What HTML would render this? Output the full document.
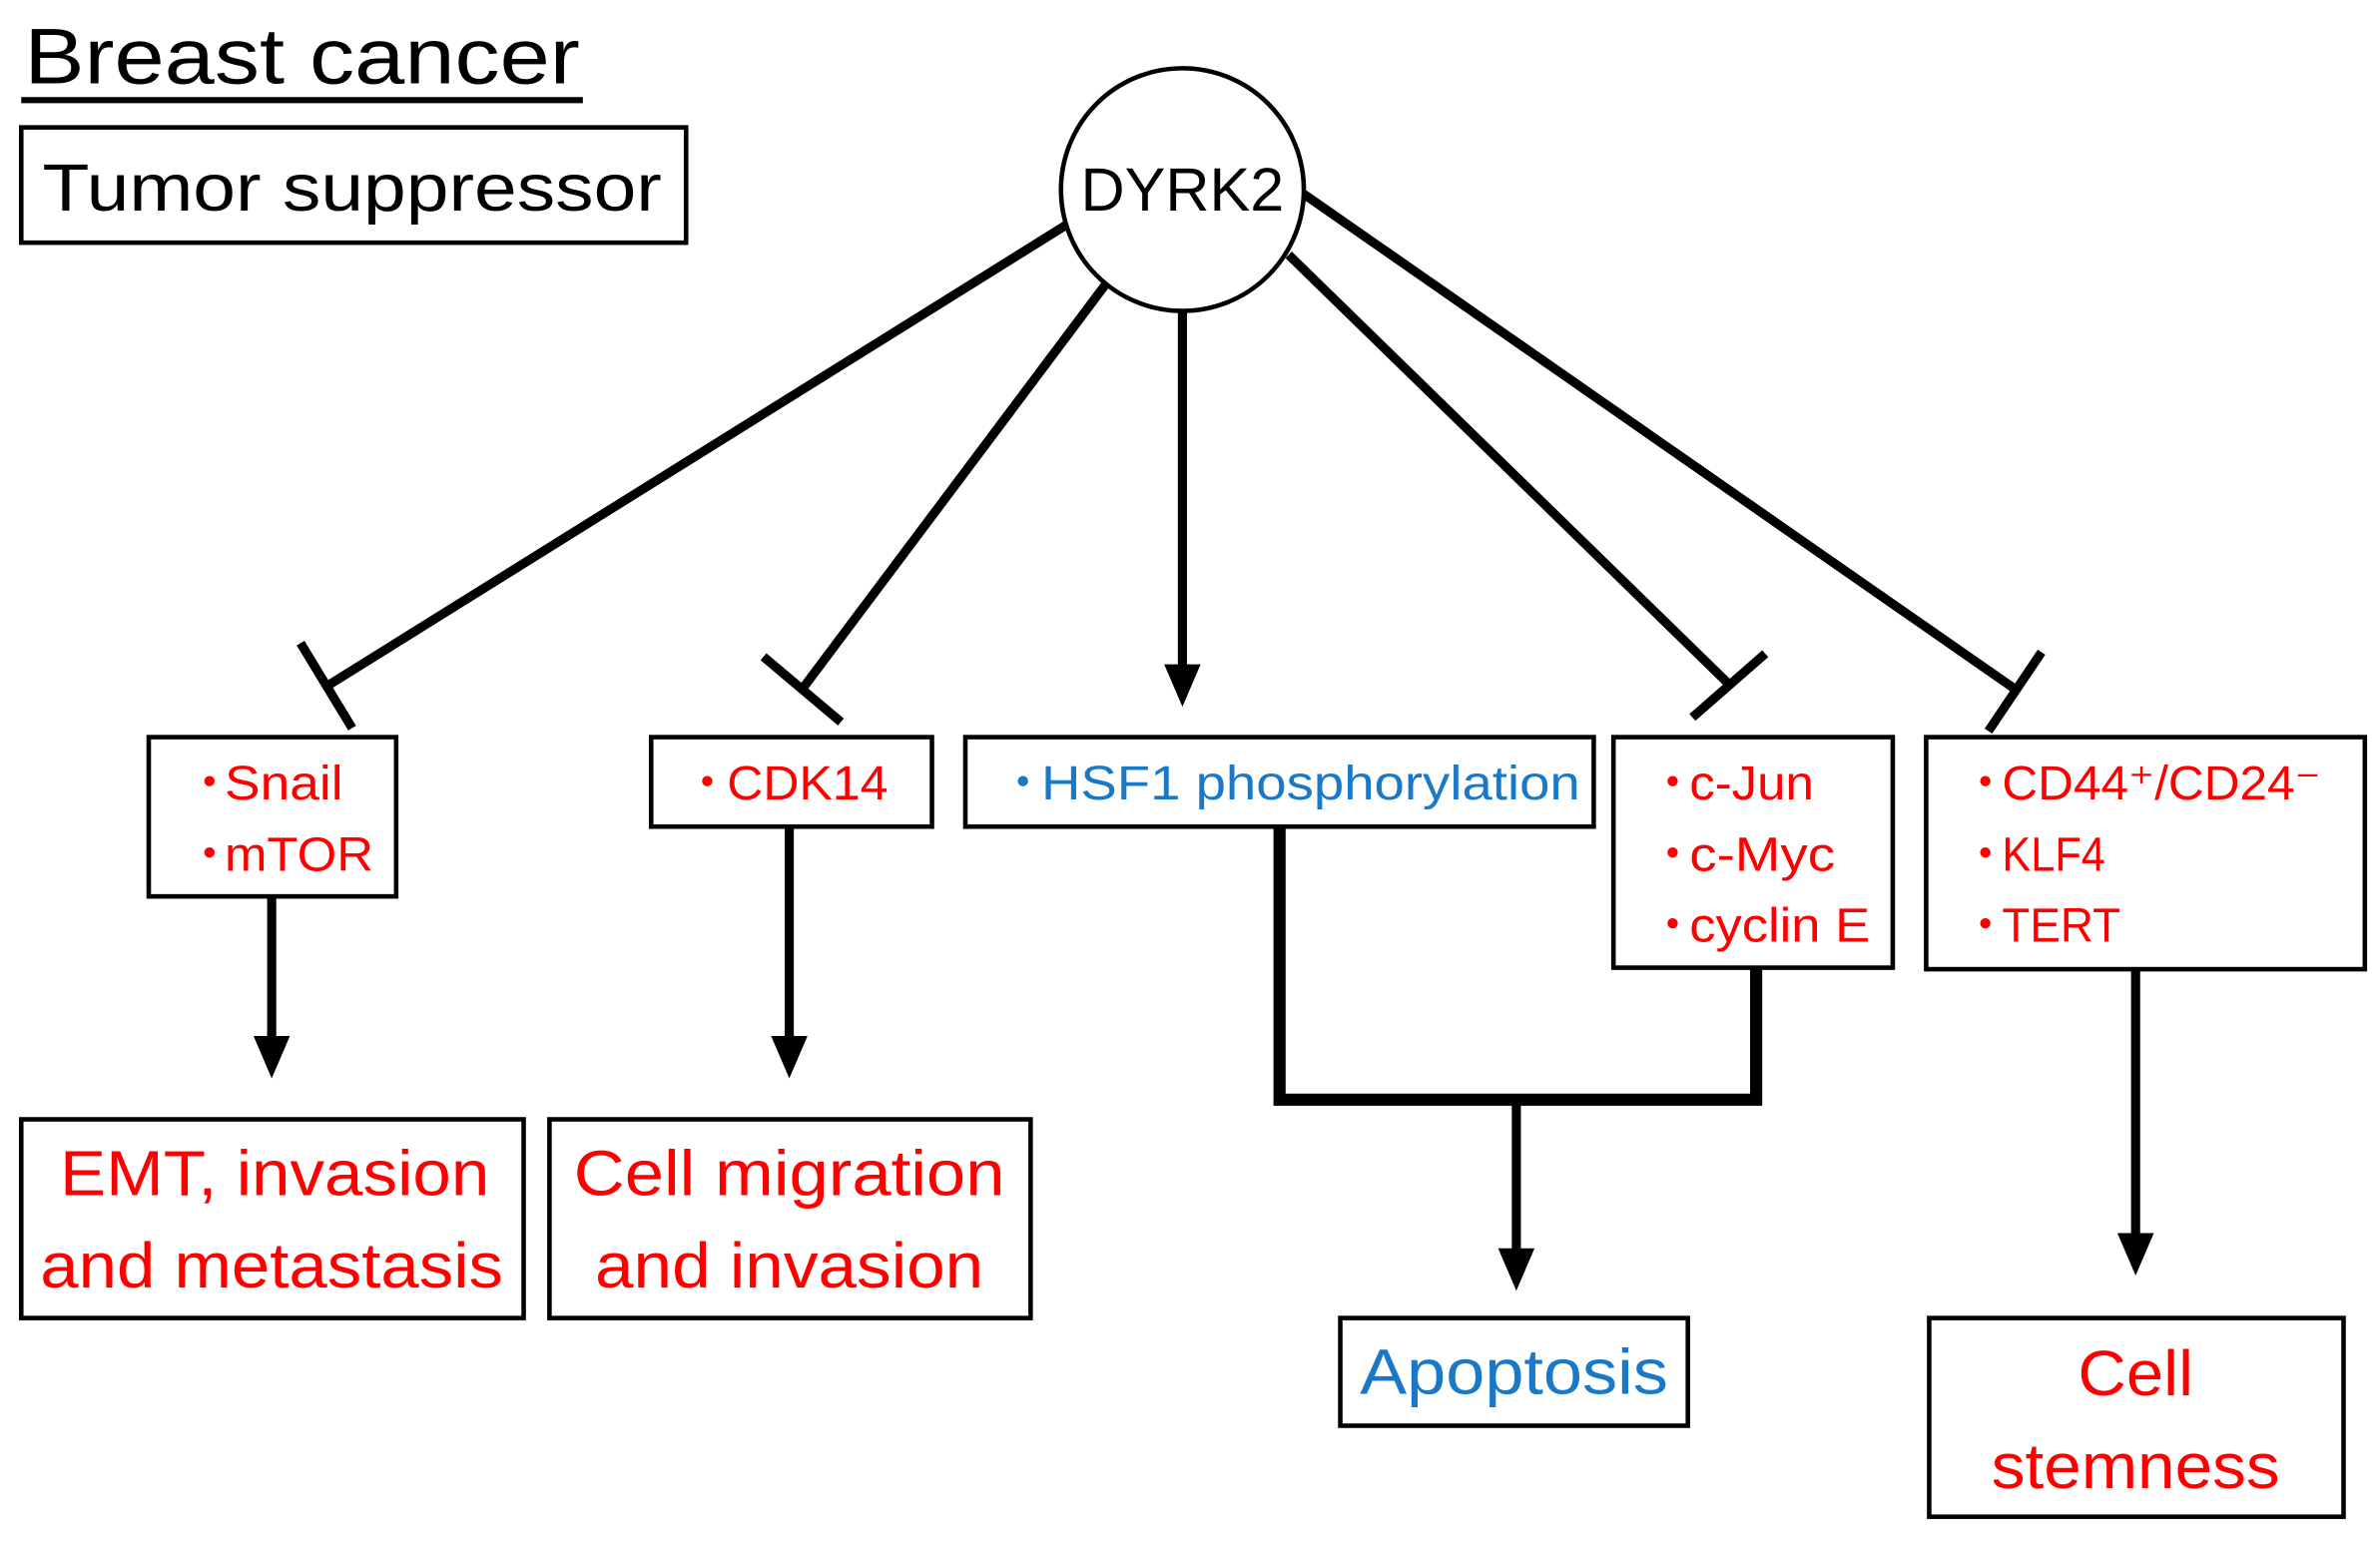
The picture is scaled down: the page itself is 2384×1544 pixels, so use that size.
<!DOCTYPE html>
<html><head><meta charset="utf-8"><style>html,body{margin:0;padding:0;background:#fff}svg{display:block}</style></head>
<body>
<svg width="2384" height="1544" viewBox="0 0 1568 1016" preserveAspectRatio="none" xmlns="http://www.w3.org/2000/svg" font-family="Liberation Sans, DejaVu Sans, sans-serif">
<defs><marker id="a" markerWidth="6" markerHeight="6" refX="3" refY="3" orient="auto" markerUnits="userSpaceOnUse" viewBox="0 0 6 6"><path d="M0,0 L6,3 L0,6 z"/></marker></defs>
<g fill="none" stroke="#000">
<!-- title -->
<line x1="14" y1="66" x2="384" y2="66" stroke-width="4"/>
<rect x="14" y="84" width="438" height="76" stroke-width="3"/>
<circle cx="779" cy="125" r="80" stroke-width="3"/>
<!-- inhibition lines -->
<g stroke-width="6">
<line x1="703" y1="148" x2="216" y2="452"/>
<line x1="198" y1="424" x2="232" y2="480"/>
<line x1="728" y1="188" x2="528" y2="455"/>
<line x1="503" y1="433" x2="554" y2="476"/>
<line x1="849" y1="168" x2="1140" y2="452"/>
<line x1="1115" y1="473" x2="1163" y2="431"/>
<line x1="859" y1="128" x2="1330" y2="456"/>
<line x1="1310" y1="482" x2="1345" y2="430"/>
<line x1="779" y1="205" x2="779" y2="440"/>
<line x1="179" y1="591" x2="179" y2="685"/>
<line x1="520" y1="545" x2="520" y2="685"/>
<line x1="1407" y1="639" x2="1407" y2="815"/>
<polyline points="843,545 843,725 1157,725 1157,638" stroke-width="8"/>
<line x1="999" y1="725" x2="999" y2="825"/>
</g>
<g fill="#000" stroke="none">
<polygon points="767,438 791,438 779,466"/>
<polygon points="167,683 191,683 179,711"/>
<polygon points="508,683 532,683 520,711"/>
<polygon points="1395,813 1419,813 1407,841"/>
<polygon points="987,823 1011,823 999,851"/>
</g>
<g stroke-width="3">
<rect x="98" y="486" width="163" height="105"/>
<rect x="429" y="486" width="185" height="59"/>
<rect x="636" y="486" width="414" height="59"/>
<rect x="1063" y="486" width="184" height="152"/>
<rect x="1269" y="486" width="289" height="153"/>
<rect x="14" y="738" width="331" height="131"/>
<rect x="362" y="738" width="317" height="131"/>
<rect x="883" y="869" width="229" height="71"/>
<rect x="1271" y="869" width="273" height="131"/>
</g>
</g>
<g fill="#000">
<text x="16" y="55" font-size="52" textLength="366" lengthAdjust="spacingAndGlyphs">Breast cancer</text>
<text x="28" y="139" font-size="44" textLength="408" lengthAdjust="spacingAndGlyphs">Tumor suppressor</text>
<text x="712" y="139" font-size="40" textLength="134" lengthAdjust="spacingAndGlyphs">DYRK2</text>
</g>
<g fill="#ff0000" font-size="32">
<text x="122" y="527">・</text><text x="148" y="527" textLength="78" lengthAdjust="spacingAndGlyphs">Snail</text>
<text x="122" y="574">・</text><text x="148" y="574" textLength="98" lengthAdjust="spacingAndGlyphs">mTOR</text>
<text x="450" y="527">・</text><text x="479" y="527" textLength="106" lengthAdjust="spacingAndGlyphs">CDK14</text>
<text x="1086" y="527">・</text><text x="1113" y="527" textLength="82" lengthAdjust="spacingAndGlyphs">c-Jun</text>
<text x="1086" y="574">・</text><text x="1113" y="574" textLength="96" lengthAdjust="spacingAndGlyphs">c-Myc</text>
<text x="1086" y="621">・</text><text x="1113" y="621" textLength="119" lengthAdjust="spacingAndGlyphs">cyclin E</text>
<text x="1292" y="527">・</text><text x="1319" y="527" textLength="210" lengthAdjust="spacingAndGlyphs">CD44⁺/CD24⁻</text>
<text x="1292" y="574">・</text><text x="1319" y="574" textLength="68" lengthAdjust="spacingAndGlyphs">KLF4</text>
<text x="1292" y="621">・</text><text x="1319" y="621" textLength="78" lengthAdjust="spacingAndGlyphs">TERT</text>
</g>
<g fill="#1a78c8" font-size="32">
<text x="658" y="527">・</text><text x="686" y="527" textLength="355" lengthAdjust="spacingAndGlyphs">HSF1 phosphorylation</text>
<text x="896" y="919" font-size="42" textLength="203" lengthAdjust="spacingAndGlyphs">Apoptosis</text>
</g>
<g fill="#ff0000" font-size="42" text-anchor="middle">
<text x="181" y="788" textLength="283" lengthAdjust="spacingAndGlyphs">EMT, invasion</text>
<text x="179" y="849" textLength="305" lengthAdjust="spacingAndGlyphs">and metastasis</text>
<text x="520" y="788" textLength="284" lengthAdjust="spacingAndGlyphs">Cell migration</text>
<text x="520" y="849" textLength="256" lengthAdjust="spacingAndGlyphs">and invasion</text>
<text x="1407" y="920" textLength="76" lengthAdjust="spacingAndGlyphs">Cell</text>
<text x="1407" y="981" textLength="190" lengthAdjust="spacingAndGlyphs">stemness</text>
</g>
</svg>
</body></html>
